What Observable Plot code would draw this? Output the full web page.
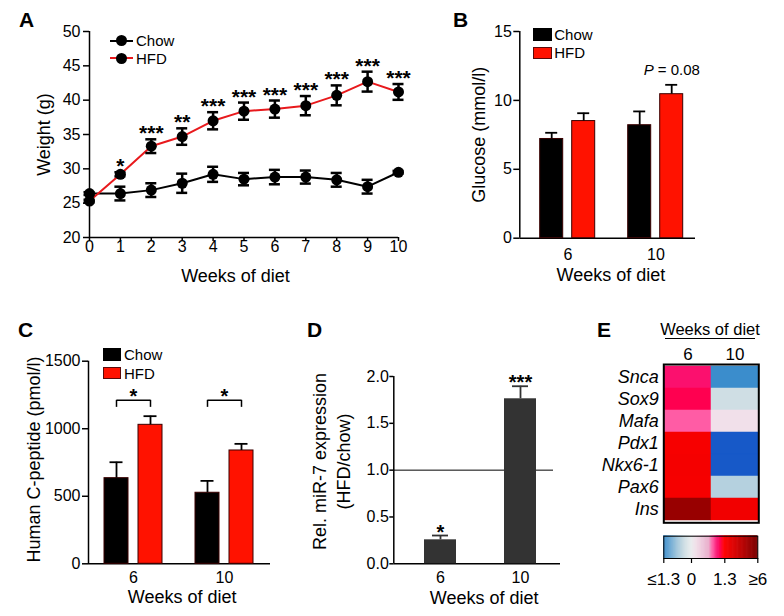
<!DOCTYPE html>
<html><head><meta charset="utf-8">
<script src="https://cdn.jsdelivr.net/npm/d3@7"></script>
<script src="https://cdn.jsdelivr.net/npm/@observablehq/plot@0.6"></script>
<style>
body{margin:0;background:#fff;}
#fig{position:relative;width:784px;height:616px;overflow:hidden;font-family:"Liberation Sans",Arial,Helvetica,sans-serif;color:#000;background:#fff;}
.letter{position:absolute;font-weight:bold;font-size:21px;line-height:1;}
</style></head><body><div id="fig"></div><script>
// ---------- DATA ----------
// Panel A: body weight
const weeksA = [0,1,2,3,4,5,6,7,8,9,10];
const weightTicks = [20,25,30,35,40,45,50];
const chowWeight    = [26.4,26.4,26.9,27.9,29.2,28.5,28.8,28.8,28.4,27.4,29.5];
const chowWeightErr = [0.2,1.0,1.0,1.4,1.1,0.9,1.05,0.95,1.0,1.0,0.2];
const hfdWeight     = [25.3,29.2,33.3,34.7,37.0,38.4,38.7,39.2,40.7,42.7,41.2];
const hfdWeightErr  = [0.2,0.3,1.0,1.2,1.25,1.25,1.25,1.4,1.45,1.45,1.15];
const hfdStars      = ["","*","***","**","***","***","***","***","***","***","***"];
const diets = ["Chow","HFD"];
// Panel B: glucose
const groupWeeks = ["6","10"];
const glucoseTicks = [0,5,10,15];
const glucoseChow = [7.2, 8.2];
const glucoseChowErr = [0.45, 1.0];
const glucoseHfd = [8.5, 10.45];
const glucoseHfdErr = [0.57, 0.68];
const glucosePLabel = "= 0.08";
// Panel C: human C-peptide
const cpepTicks = [0,500,1000,1500];
const cpepChow = [634, 526];
const cpepChowErr = [118, 88];
const cpepHfd = [1029, 839];
const cpepHfdErr = [64, 49];
const cpepSig = ["*","*"];
const cpepSigLevel = 1210;
// Panel D: miR-7
const mirTicks = [0,0.5,1,1.5,2];
const mir7 = [0.256, 1.762];
const mir7Err = [0.046, 0.134];
const mirStars = ["*","***"];
// Panel E: heatmap
const genes = ["Snca","Sox9","Mafa","Pdx1","Nkx6-1","Pax6","Ins"];
const heatWeeks = ["6","10"];
const heatWeek6  = [1.05, 1.15, 0.85, 1.6, 1.7, 1.65, 5.0];
const heatWeek10 = [-1.3, -0.3, 0.2, -2.0, -2.0, -0.5, 1.8];
const cbTicks = [-1.3, 0, 1.3, 6];
const cbLabels = ["≤1.3","0","1.3","≥6"];

// ---------- STYLE ----------
const FONT = '"Liberation Sans", Arial, Helvetica, sans-serif';
const RED_LINE = "#e8191c";
const RED_BAR = "#ff1200";
const heatColor = {
  type: "linear",
  domain: [-2, -1.3, -0.6, -0.3, 0, 0.2, 0.7, 0.85, 1.05, 1.15, 1.3, 3, 6],
  range: ["#1759c8","#3b8dcc","#a8cadc","#cfdee4","#e8ecee","#f1e0ea","#e9aecb","#ff5ca5","#fb106e","#ff0050","#ff0000","#d40000","#7a0000"],
  interpolate: "rgb", clamp: true
};
const baseStyle = {fontFamily: FONT, fontSize: "16px", background: "transparent", overflow: "visible", color: "black"};
const fig = document.getElementById("fig");
function place(el, left, top) {
  el.style.position = "absolute"; el.style.left = left + "px"; el.style.top = top + "px";
  fig.appendChild(el); return el;
}
function div(text, css, cls) {
  const d = document.createElement("div");
  if (cls) d.className = cls;
  d.textContent = text;
  Object.assign(d.style, {position: "absolute"}, css);
  fig.appendChild(d); return d;
}

// ---------- PANEL A ----------
const rowsA = weeksA.flatMap((w, i) => [
  {week: w, diet: "Chow", mean: chowWeight[i], err: chowWeightErr[i], stars: ""},
  {week: w, diet: "HFD", mean: hfdWeight[i], err: hfdWeightErr[i], stars: hfdStars[i]}
]);
const hfdRowsA = rowsA.filter(d => d.diet === "HFD");
place(Plot.plot({
  width: 410, height: 290, marginLeft: 89, marginRight: 12, marginTop: 31, marginBottom: 53,
  style: baseStyle,
  x: {domain: [0, 10], axis: null},
  y: {domain: [20, 50], axis: null},
  color: {domain: diets, range: ["#000000", RED_LINE]},
  marks: [
    Plot.axisY({ticks: weightTicks, tickSize: 6, tickPadding: 3, strokeWidth: 1.5, fontSize: 16, label: null}),
    Plot.axisX({ticks: weeksA, tickSize: 4, tickPadding: -1, strokeWidth: 1.5, fontSize: 16, label: null}),
    Plot.ruleX([0], {strokeWidth: 1.5}),
    Plot.ruleY([20], {strokeWidth: 1.5}),
    Plot.line(rowsA, {x: "week", y: "mean", z: "diet", stroke: "diet", strokeWidth: 2}),
    Plot.ruleX(rowsA, {x: "week", y1: d => d.mean - d.err, y2: d => d.mean + d.err, strokeWidth: 2.5}),
    Plot.ruleY(rowsA, {x1: "week", x2: "week", y: d => d.mean + d.err, insetLeft: -5.5, insetRight: -5.5, strokeWidth: 2.5}),
    Plot.ruleY(rowsA, {x1: "week", x2: "week", y: d => d.mean - d.err, insetLeft: -5.5, insetRight: -5.5, strokeWidth: 2.5}),
    Plot.dot(rowsA, {x: "week", y: "mean", r: 5.5, fill: "black"}),
    Plot.text(hfdRowsA, {x: "week", y: d => d.mean + d.err, text: "stars", lineAnchor: "bottom", dy: 1, fontSize: 21, fontWeight: "bold"}),
    Plot.text(["Weight (g)"], {text: d => d, frameAnchor: "left", textAnchor: "middle", rotate: -90, dx: -45, fontSize: 18}),
    Plot.text(["Weeks of diet"], {text: d => d, frameAnchor: "bottom", lineAnchor: "bottom", dx: -8.5, dy: 44, fontSize: 18})
  ]
}), 0, 0);

function lineLegend(label, color, left, cy) {
  const row = div("", {left: left + "px", top: (cy - 9) + "px", height: "18px", display: "flex", alignItems: "center", fontSize: "15px", lineHeight: "1"});
  const sym = document.createElement("span");
  Object.assign(sym.style, {position: "relative", display: "inline-block", width: "23px", height: "11px", marginRight: "3px"});
  sym.innerHTML = `<span style="position:absolute;left:0;top:4.5px;width:23px;height:2px;background:${color}"></span><span style="position:absolute;left:6px;top:0;width:11px;height:11px;border-radius:50%;background:#000"></span>`;
  row.appendChild(sym);
  row.appendChild(document.createTextNode(label));
}
lineLegend(diets[0], "#000", 110, 40.7);
lineLegend(diets[1], RED_LINE, 110, 58.3);

function boxLegend(label, fill, border, left, top, w, h, gap) {
  const row = div("", {left: left + "px", top: top + "px", height: h + "px", display: "flex", alignItems: "center", fontSize: "15px", lineHeight: "1"});
  const sq = document.createElement("span");
  Object.assign(sq.style, {display: "inline-block", boxSizing: "border-box", width: w + "px", height: h + "px", background: fill, border: `1px solid ${border}`, marginRight: gap + "px"});
  row.appendChild(sq);
  row.appendChild(document.createTextNode(label));
}

// ---------- grouped bar helper ----------
function axesPlot(o) {
  return Plot.plot({
    width: o.width, height: o.height, marginLeft: o.ml, marginRight: o.mrAxis, marginTop: o.mt, marginBottom: o.mb,
    style: baseStyle,
    x: {domain: [0, 1], axis: null},
    y: {domain: o.yDomain, axis: null},
    marks: [
      ...(o.extraAxisMarks || []),
      Plot.ruleX([0], {strokeWidth: 1.5}),
      Plot.ruleY([0], {strokeWidth: 1.5}),
      Plot.axisY({ticks: o.yTicks, tickFormat: o.tickFormat, tickSize: o.tickSize, tickPadding: o.tickPadding, strokeWidth: 1.5, fontSize: 16, label: null}),
      Plot.text([o.yLabel], {text: d => d, frameAnchor: "left", textAnchor: "middle", rotate: -90, dx: o.yLabelDx, dy: o.yLabelDy || 0, fontSize: 18, lineHeight: 1.33}),
      Plot.text(["Weeks of diet"], {text: d => d, frameAnchor: "bottom", lineAnchor: "bottom", dx: o.xLabelDx, dy: o.xLabelDy, fontSize: 18})
    ]
  });
}
function groupedBars(rows, o) {
  return Plot.plot({
    width: o.width, height: o.height, marginLeft: o.ml, marginRight: o.mrBars, marginTop: o.mt, marginBottom: o.mb,
    style: baseStyle,
    fx: {domain: groupWeeks, paddingInner: o.fxPI, paddingOuter: o.fxPO, label: null, axis: "bottom", tickSize: 0, tickPadding: o.fxTickPadding},
    x: {domain: diets, paddingInner: o.xPI, paddingOuter: 0, axis: null},
    y: {domain: o.yDomain, axis: null},
    color: {domain: diets, range: ["#000000", RED_BAR]},
    marks: [
      Plot.barY(rows, {fx: "week", x: "diet", y: "mean", fill: "diet", stroke: "#3a0000", strokeWidth: 1}),
      Plot.ruleX(rows, {fx: "week", x: "diet", y1: "mean", y2: d => d.mean + d.err, strokeWidth: 1.8}),
      Plot.tickY(rows, {fx: "week", x: "diet", y: d => d.mean + d.err, insetLeft: o.capInset, insetRight: o.capInset, strokeWidth: 1.8}),
      ...(o.extraMarks || [])
    ]
  });
}

// ---------- PANEL B ----------
const rowsB = groupWeeks.flatMap((w, i) => [
  {week: w, diet: "Chow", mean: glucoseChow[i], err: glucoseChowErr[i]},
  {week: w, diet: "HFD", mean: glucoseHfd[i], err: glucoseHfdErr[i]}
]);
const pRowsB = [{week: groupWeeks[1], diet: "HFD", top: glucoseHfd[1] + glucoseHfdErr[1]}];
const optB = {width: 384, height: 290, ml: 119.3, mrAxis: 89, mrBars: 80.3, mt: 31, mb: 52.3,
  yDomain: [0, 15], yTicks: glucoseTicks, tickFormat: d3.format("d"), tickSize: 6, tickPadding: 2,
  yLabel: "Glucose (mmol/l)", yLabelDx: -42.3, xLabelDx: 3.3, xLabelDy: 42.3,
  fxPI: 0.35, fxPO: 0.2225, xPI: 0.27, fxTickPadding: 10, capInset: 5.5,
  extraMarks: [
    Plot.text(pRowsB, {fx: "week", x: "diet", y: "top", text: () => "P", fontStyle: "italic", textAnchor: "start", dx: -28, dy: -10, lineAnchor: "bottom", fontSize: 15}),
    Plot.text(pRowsB, {fx: "week", x: "diet", y: "top", text: () => glucosePLabel, textAnchor: "start", dx: -14, dy: -10, lineAnchor: "bottom", fontSize: 15})
  ]};
place(axesPlot(optB), 400, 0);
place(groupedBars(rowsB, optB), 400, 0);
boxLegend(diets[0], "#000", "#000", 532.7, 28.3, 19, 12.4, 2.6);
boxLegend(diets[1], RED_BAR, "#5a0a0a", 532.7, 46.7, 19, 12.4, 2.6);

// ---------- PANEL C ----------
const rowsC = groupWeeks.flatMap((w, i) => [
  {week: w, diet: "Chow", mean: cpepChow[i], err: cpepChowErr[i]},
  {week: w, diet: "HFD", mean: cpepHfd[i], err: cpepHfdErr[i]}
]);
const sigC = groupWeeks.map((w, i) => ({week: w, level: cpepSigLevel, text: cpepSig[i]}));
const legsC = sigC.flatMap(s => diets.map(d => ({...s, diet: d})));
const optC = {width: 290, height: 326, ml: 88, mrAxis: 20, mrBars: 20, mt: 70.7, mb: 52.7,
  yDomain: [0, 1500], yTicks: cpepTicks, tickFormat: d3.format("d"), tickSize: 6, tickPadding: 2,
  yLabel: "Human C-peptide (pmol/l)", yLabelDx: -56.5, yLabelDy: -3, xLabelDx: 2.7, xLabelDy: 38.7,
  fxPI: 0.36, fxPO: 0.18, xPI: 0.3, fxTickPadding: 8, capInset: 5.5,
  extraMarks: [
    Plot.link(sigC, {fx: "week", x1: () => "Chow", x2: () => "HFD", y1: "level", y2: "level", strokeWidth: 1.5}),
    Plot.ruleX(legsC, {fx: "week", x: "diet", y1: "level", y2: "level", insetBottom: -7, strokeWidth: 1.5}),
    Plot.text(sigC, {fx: "week", y: "level", text: "text", lineAnchor: "bottom", dy: 3, fontSize: 20, fontWeight: "bold"})
  ]};
place(axesPlot(optC), 0, 290);
place(groupedBars(rowsC, optC), 0, 290);
boxLegend(diets[0], "#000", "#000", 103, 348.3, 18, 12.7, 3);
boxLegend(diets[1], RED_BAR, "#5a0a0a", 103, 366.7, 18, 12.7, 3);

// ---------- PANEL D ----------
const rowsD = groupWeeks.map((w, i) => ({week: w, value: mir7[i], err: mir7Err[i], stars: mirStars[i]}));
place(axesPlot({width: 290, height: 326, ml: 113.3, mrAxis: 10, mt: 86, mb: 52.7,
  yDomain: [0, 2], yTicks: mirTicks, tickFormat: d3.format(".1f"), tickSize: 4, tickPadding: 1,
  yLabel: "Rel. miR-7 expression\n(HFD/chow)", yLabelDx: -63.3, yLabelDy: -8.7, xLabelDx: 7, xLabelDy: 39.7,
  extraAxisMarks: [Plot.ruleY([1], {strokeWidth: 1, insetRight: 7})]
}), 280, 290);
place(Plot.plot({
  width: 290, height: 326, marginLeft: 113.3, marginRight: 4.3, marginTop: 86, marginBottom: 52.7,
  style: baseStyle,
  x: {domain: groupWeeks, paddingInner: 0.605, paddingOuter: 0.367, label: null, tickSize: 0, tickPadding: 8},
  y: {domain: [0, 2], axis: null},
  marks: [
    Plot.barY(rowsD, {x: "week", y: "value", fill: "#333333"}),
    Plot.ruleX(rowsD, {x: "week", y1: "value", y2: d => d.value + d.err, strokeWidth: 1.8, stroke: "#333"}),
    Plot.tickY(rowsD, {x: "week", y: d => d.value + d.err, insetLeft: 8, insetRight: 8, strokeWidth: 1.8, stroke: "#333"}),
    Plot.text(rowsD, {x: "week", y: d => d.value + d.err, text: "stars", lineAnchor: "bottom", dy: 3, fontSize: 20, fontWeight: "bold"})
  ]
}), 280, 290);

// ---------- PANEL E ----------
const heatRows = genes.flatMap((g, i) => [
  {gene: g, week: heatWeeks[0], value: heatWeek6[i]},
  {gene: g, week: heatWeeks[1], value: heatWeek10[i]}
]);
place(Plot.plot({
  width: 224, height: 326, marginLeft: 103.3, marginRight: 25.7, marginTop: 74, marginBottom: 93.7,
  style: baseStyle,
  x: {domain: heatWeeks, padding: 0, axis: null},
  y: {domain: genes, padding: 0, axis: null},
  color: heatColor,
  marks: [
    Plot.cell(heatRows, {x: "week", y: "gene", fill: "value", stroke: "value", strokeWidth: 0.5, inset: 0}),
    Plot.frame({stroke: "black", strokeWidth: 2}),
    Plot.text(genes, {y: d => d, text: d => d, frameAnchor: "left", textAnchor: "end", dx: -5, fontSize: 18, fontStyle: "italic"}),
    Plot.text(heatWeeks, {x: d => d, text: d => d, frameAnchor: "top", lineAnchor: "bottom", dy: -5, fontSize: 17})
  ]
}), 560, 290);
div("Weeks of diet", {left: "650px", top: "320.9px", width: "120px", textAlign: "center", fontSize: "16.5px", lineHeight: "1"});
div("", {left: "665px", top: "337.5px", width: "90px", height: "0", borderTop: "1.5px solid #000"});

// colour bar
const cbSamples = [];
for (let s = 0; s < cbTicks.length - 1; s++) {
  const a = cbTicks[s], b = cbTicks[s + 1];
  for (let k = 0; k < 40; k++) cbSamples.push({v0: a + (b - a) * k / 40, v1: a + (b - a) * (k + 1) / 40});
}
place(Plot.plot({
  width: 224, height: 96, marginLeft: 103.3, marginRight: 26.7, marginTop: 15.7, marginBottom: 58,
  style: baseStyle,
  x: {type: "linear", domain: cbTicks, range: [103.3, 131, 164.3, 197.3], axis: null},
  color: heatColor,
  marks: [
    Plot.barX(cbSamples, {x1: "v0", x2: "v1", fill: d => (d.v0 + d.v1) / 2, stroke: d => (d.v0 + d.v1) / 2, strokeWidth: 0.6}),
    Plot.frame({stroke: "black", strokeWidth: 1}),
    Plot.axisX({ticks: cbTicks, tickFormat: d => cbLabels[cbTicks.indexOf(d)], tickSize: 5, tickPadding: 9, strokeWidth: 1.2, fontSize: 17, label: null})
  ]
}), 560, 520);

// ---------- panel letters ----------
div("A", {left: "19px", top: "9.3px"}, "letter");
div("B", {left: "453px", top: "9.3px"}, "letter");
div("C", {left: "18px", top: "319.3px"}, "letter");
div("D", {left: "307px", top: "319.3px"}, "letter");
div("E", {left: "597px", top: "319.3px"}, "letter");
</script></body></html>
